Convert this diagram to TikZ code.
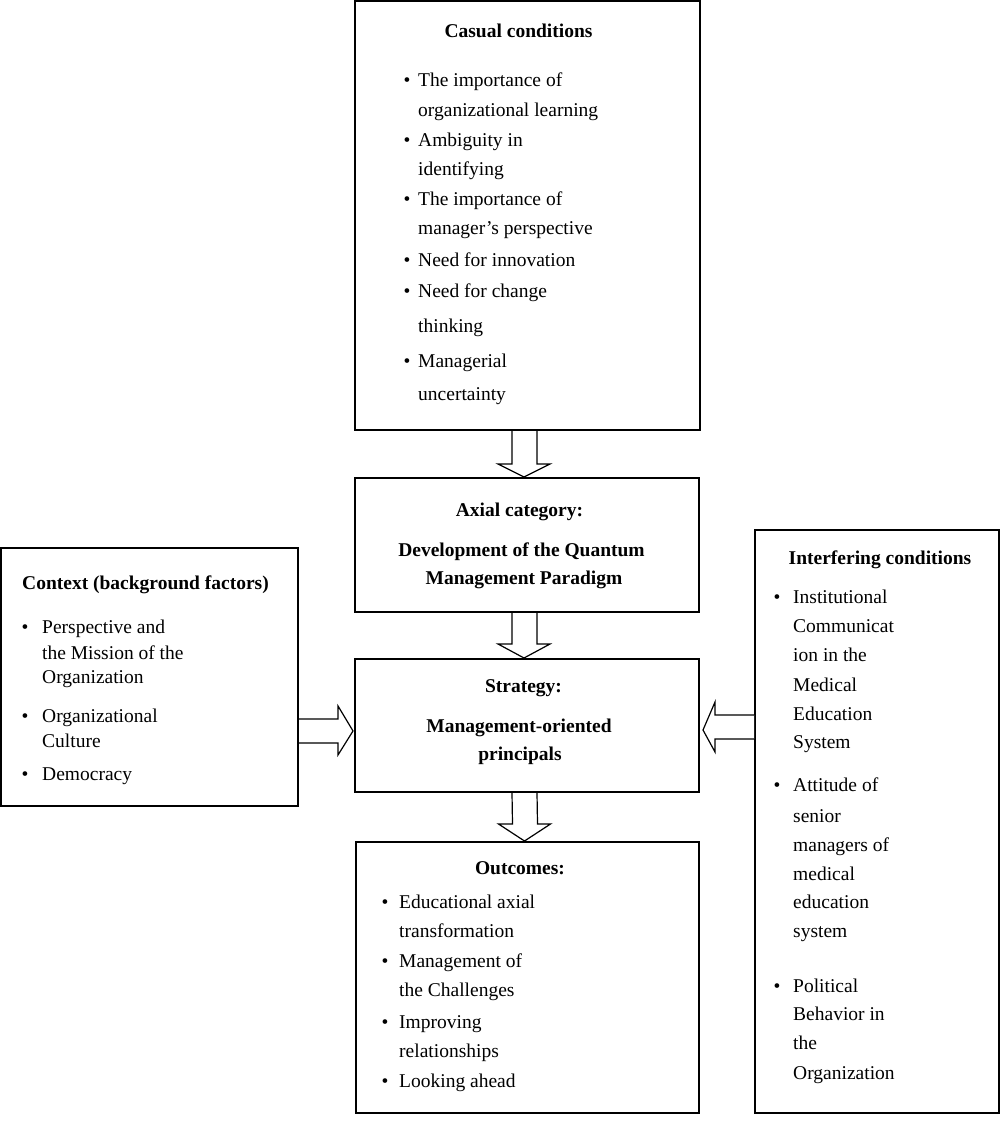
\documentclass[tikz,border=0pt]{standalone}
\usepackage{fontspec}
\setmainfont{Liberation Serif}
\usetikzlibrary{calc}
\begin{document}
\begin{tikzpicture}[x=1pt,y=1pt,
  box/.style={draw=black, line width=2pt, rectangle, inner sep=0pt},
  tx/.style={font=\fontsize{19.5}{23}\selectfont, inner sep=0pt, anchor=base west},
  ttl/.style={font=\fontsize{19.5}{23}\selectfont\bfseries, inner sep=0pt, anchor=base},
  bul/.style={font=\fontsize{19.5}{23}\selectfont, inner sep=0pt, anchor=base},
  blk/.style={draw=black, line width=1.2pt, fill=white, line join=miter}]
\useasboundingbox (0,0) rectangle (1000,-1139);
% boxes
\node[box, minimum width=345pt, minimum height=429pt] (cas) at (527.5,-215.5) {};
\node[box, minimum width=344pt, minimum height=134pt] (axi) at (527,-545) {};
\node[box, minimum width=344pt, minimum height=133pt] (str) at (527,-725.5) {};
\node[box, minimum width=343pt, minimum height=271pt] (out) at (527.5,-977.5) {};
\node[box, minimum width=297pt, minimum height=258pt] (ctx) at (149.5,-677) {};
\node[box, minimum width=244pt, minimum height=583pt] (int) at (877,-821.5) {};
% block arrows
\draw[blk] ($(cas.south)+(-15.5,0)$) -- ($(axi.north)+(-15,13)$) -- ($(axi.north)+(-29,13)$) -- ($(axi.north)+(-3,0)$) -- ($(axi.north)+(23,13)$) -- ($(axi.north)+(10,13)$) -- ($(cas.south)+(9.5,0)$);
\draw[blk] ($(axi.south)+(-15,0)$) -- ($(str.north)+(-15,14)$) -- ($(str.north)+(-29,14)$) -- ($(str.north)+(-3,0)$) -- ($(str.north)+(23,14)$) -- ($(str.north)+(10,14)$) -- ($(axi.south)+(10,0)$);
\draw[blk] ($(str.south)+(-15,0)$) -- ($(out.north)+(-15,17)$) -- ($(out.north)+(-29,17)$) -- ($(out.north)+(-3,0)$) -- ($(out.north)+(23,17)$) -- ($(out.north)+(10,17)$) -- ($(str.south)+(10,0)$);
\draw[blk] ($(ctx.east)+(0,-42)$) -- ($(str.west)+(-16,6.5)$) -- ($(str.west)+(-16,19.5)$) -- ($(str.west)+(-1,-5.5)$) -- ($(str.west)+(-16,-29.5)$) -- ($(str.west)+(-16,-17.5)$) -- ($(ctx.east)+(0,-66)$);
\draw[blk] ($(int.west)+(0,106.5)$) -- ($(str.east)+(15,10.5)$) -- ($(str.east)+(15,23.5)$) -- ($(str.east)+(3,-4.5)$) -- ($(str.east)+(15,-26.5)$) -- ($(str.east)+(15,-13.5)$) -- ($(int.west)+(0,82.5)$);
% casual conditions
\node[ttl] (cat) at (518.5,-38) {Casual conditions};
\node[bul] (cab1) at (407,-86.7) {•};
\node[tx] (ca1) at (418,-86.7) {The importance of};
\node[tx] (ca2) at (418,-116.7) {organizational learning};
\node[bul] (cab2) at (407,-147) {•};
\node[tx] (ca3) at (418,-147) {Ambiguity in};
\node[tx] (ca4) at (418,-176) {identifying};
\node[bul] (cab3) at (407,-206) {•};
\node[tx] (ca5) at (418,-206) {The importance of};
\node[tx] (ca6) at (418,-235) {manager’s perspective};
\node[bul] (cab4) at (407,-267) {•};
\node[tx] (ca7) at (418,-267) {Need for innovation};
\node[bul] (cab5) at (407,-298) {•};
\node[tx] (ca8) at (418,-298) {Need for change};
\node[tx] (ca9) at (418,-332) {thinking};
\node[bul] (cab6) at (407,-367) {•};
\node[tx] (ca10) at (418,-367) {Managerial};
\node[tx] (ca11) at (418,-400) {uncertainty};
% axial
\node[ttl] (axt) at (519.5,-516) {Axial category:};
\node[ttl] (ax1) at (521.5,-556) {Development of the Quantum};
\node[ttl] (ax2) at (524,-584) {Management Paradigm};
% strategy
\node[ttl] (stt) at (523.5,-692) {Strategy:};
\node[ttl] (st1) at (519,-732) {Management-oriented};
\node[ttl] (st2) at (520,-760) {principals};
% outcomes
\node[ttl] (ott) at (520,-874) {Outcomes:};
\node[bul] (otb1) at (385,-908) {•};
\node[tx] (ot1) at (399,-908) {Educational axial};
\node[tx] (ot2) at (399,-937) {transformation};
\node[bul] (otb2) at (385,-967) {•};
\node[tx] (ot3) at (399,-967) {Management of};
\node[tx] (ot4) at (399,-996) {the Challenges};
\node[bul] (otb3) at (385,-1028) {•};
\node[tx] (ot5) at (399,-1028) {Improving};
\node[tx] (ot6) at (399,-1057) {relationships};
\node[bul] (otb4) at (385,-1087) {•};
\node[tx] (ot7) at (399,-1087) {Looking ahead};
% context
\node[ttl, anchor=base west] (cxt) at (22,-589) {Context (background factors)};
\node[bul] (cxb1) at (25,-633) {•};
\node[tx] (cx1) at (42,-633) {Perspective and};
\node[tx] (cx2) at (42,-659) {the Mission of the};
\node[tx] (cx3) at (42,-683) {Organization};
\node[bul] (cxb2) at (25,-722) {•};
\node[tx] (cx4) at (42,-722) {Organizational};
\node[tx] (cx5) at (42,-747) {Culture};
\node[bul] (cxb3) at (25,-780) {•};
\node[tx] (cx6) at (42,-780) {Democracy};
% interfering
\node[ttl] (itt) at (880,-564) {Interfering conditions};
\node[bul] (itb1) at (777,-603) {•};
\node[tx] (it1) at (793,-603) {Institutional};
\node[tx] (it2) at (793,-632) {Communicat};
\node[tx] (it3) at (793,-661) {ion in the};
\node[tx] (it4) at (793,-691) {Medical};
\node[tx] (it5) at (793,-720) {Education};
\node[tx] (it6) at (793,-748) {System};
\node[bul] (itb2) at (777,-791) {•};
\node[tx] (it7) at (793,-791) {Attitude of};
\node[tx] (it8) at (793,-822) {senior};
\node[tx] (it9) at (793,-851) {managers of};
\node[tx] (it10) at (793,-880) {medical};
\node[tx] (it11) at (793,-908) {education};
\node[tx] (it12) at (793,-937) {system};
\node[bul] (itb3) at (777,-992) {•};
\node[tx] (it13) at (793,-992) {Political};
\node[tx] (it14) at (793,-1020) {Behavior in};
\node[tx] (it15) at (793,-1049) {the};
\node[tx] (it16) at (793,-1079) {Organization};
\end{tikzpicture}
\end{document}
